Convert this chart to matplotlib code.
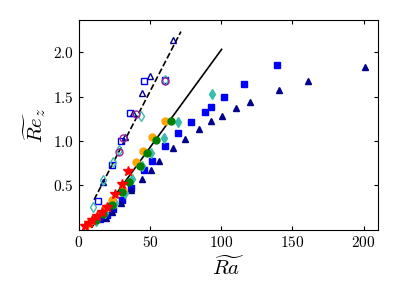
import numpy as np
import matplotlib.pyplot as plt

plt.rcParams['font.family'] = 'serif'
plt.rcParams['font.serif'] = ['cmr10']
plt.rcParams['mathtext.fontset'] = 'cm'
plt.rcParams['axes.formatter.use_mathtext'] = True

# open markers (along dashed line)
osq_x = [13.2, 23.0, 29.6, 35.9, 45.8, 60.1]
osq_y = [0.32, 0.73, 1.00, 1.32, 1.67, 1.69]
otri_x = [17.1, 32.4, 37.8, 44.2, 50.0, 66.4]
otri_y = [0.54, 1.05, 1.32, 1.54, 1.73, 2.14]
odia_x = [10.1, 16.7, 24.2, 28.2, 43.5, 60.1]
odia_y = [0.26, 0.56, 0.76, 0.90, 1.28, 1.69]
ocir_x = [28.2, 31.2, 40.1, 60.1]
ocir_y = [0.88, 1.03, 1.30, 1.67]

# filled markers
star_x = [4.2, 7.0, 9.2, 12.5, 16.0, 19.5, 25.4, 30.1, 34.7]
star_y = [0.04, 0.08, 0.11, 0.16, 0.20, 0.26, 0.40, 0.52, 0.66]
orng_x = [6.5, 10.1, 18.3, 23.0, 31.2, 40.0, 45.3, 51.2, 60.1]
orng_y = [0.07, 0.11, 0.25, 0.34, 0.45, 0.76, 0.89, 1.05, 1.22]
grn_x = [12.0, 16.9, 23.2, 30.3, 35.2, 43.0, 47.9, 54.2, 64.8]
grn_y = [0.11, 0.18, 0.28, 0.43, 0.54, 0.72, 0.87, 1.01, 1.23]
teal_x = [12.0, 18.3, 25.4, 32.4, 37.1, 44.2, 50.5, 59.9, 69.9, 93.4]
teal_y = [0.10, 0.19, 0.30, 0.41, 0.57, 0.72, 0.86, 1.03, 1.21, 1.53]
bsq_x = [14.8, 19.5, 24.2, 30.1, 36.5, 45.8, 51.2, 60.6, 69.9, 78.9, 88.2, 93.0, 102.1, 116.2, 139.2]
bsq_y = [0.12, 0.17, 0.23, 0.34, 0.47, 0.67, 0.78, 0.94, 1.09, 1.21, 1.33, 1.38, 1.49, 1.64, 1.85]
tri_x = [18.8, 23.5, 29.4, 36.4, 44.2, 50.5, 56.3, 66.0, 74.4, 84.5, 92.5, 100.5, 110.6, 120.4, 140.6, 160.6, 200.7]
tri_y = [0.13, 0.20, 0.30, 0.45, 0.57, 0.67, 0.78, 0.92, 1.02, 1.14, 1.22, 1.28, 1.37, 1.44, 1.57, 1.68, 1.83]

# fit lines
dash_x = [10.6, 71.6]
dash_y = [0.34, 2.23]
solid_x = [9.0, 100.2]
solid_y = [0.03, 2.03]

fig = plt.figure(figsize=(3.99, 2.99), dpi=100)
ax = fig.add_axes([0.198, 0.231, 0.749, 0.702])

navy = '#00008B'
teal = '#3CBCAA'

ax.plot(dash_x, dash_y, 'k--', lw=1.2)
ax.plot(solid_x, solid_y, 'k-', lw=1.2)

ax.plot(bsq_x, bsq_y, 's', color='#0000FF', ms=5, ls='none')
ax.plot(tri_x, tri_y, '^', color=navy, ms=5, ls='none')
ax.plot(teal_x, teal_y, 'd', color=teal, ms=5, ls='none')
ax.plot(orng_x, orng_y, 'o', color='#FFA500', ms=5, ls='none')
ax.plot(grn_x, grn_y, 'o', color='#008000', ms=5, ls='none')
ax.plot(star_x, star_y, '*', color='#FF0000', ms=7, ls='none')

ax.plot(osq_x, osq_y, 's', mfc='none', mec='#0000FF', ms=5, ls='none')
ax.plot(otri_x, otri_y, '^', mfc='none', mec=navy, ms=5, ls='none')
ax.plot(odia_x, odia_y, 'd', mfc='none', mec=teal, ms=5, ls='none')
ax.plot(ocir_x, ocir_y, 'o', mfc='none', mec='#A020A0', ms=5, ls='none')

ax.set_xlim(0, 210)
ax.set_ylim(0, 2.36)
ax.set_xticks([0, 50, 100, 150, 200])
ax.set_yticks([0.5, 1.0, 1.5, 2.0])
ax.tick_params(direction='in', top=True, right=True, labelsize=11, length=3)
ax.set_xlabel(r'$\widetilde{Ra}$', fontsize=15)
ax.set_ylabel(r'$\widetilde{Re}_z$', fontsize=15)

fig.savefig('out.png', dpi=100)
